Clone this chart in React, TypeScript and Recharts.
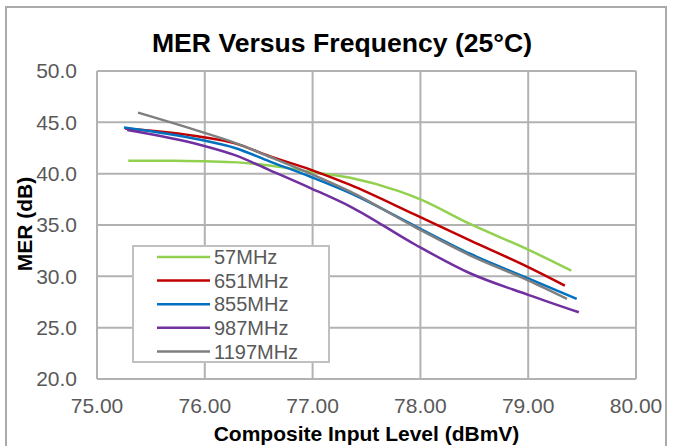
import { CartesianGrid, Label, Legend, Line, LineChart, XAxis, YAxis } from "recharts";

const FONT = "'Liberation Sans', Arial, sans-serif";

const seriesNames = ["57MHz", "651MHz", "855MHz", "987MHz", "1197MHz"];
const seriesColors = ["#92d050", "#c00000", "#0070c0", "#7030a0", "#7f7f7f"];

const x57 = [75.29, 75.7, 76.0, 76.3, 76.6, 77.0, 77.35, 77.8, 78.0, 78.46, 79.0, 79.4];
const y57 = [41.25, 41.25, 41.2, 41.1, 40.8, 40.15, 39.6, 38.3, 37.5, 35.1, 32.6, 30.55];

const x651 = [75.26, 75.96, 76.28, 76.6, 76.98, 77.35, 77.95, 78.46, 79.0, 79.34];
const y651 = [44.4, 43.6, 42.95, 41.7, 40.4, 38.9, 36.0, 33.5, 30.9, 29.1];

const x855 = [75.25, 75.96, 76.28, 76.6, 76.98, 77.35, 77.95, 78.46, 79.0, 79.45];
const y855 = [44.5, 43.3, 42.5, 41.2, 39.7, 38.1, 34.9, 32.2, 29.8, 27.8];

const x987 = [75.28, 75.96, 76.28, 76.6, 76.98, 77.35, 77.95, 78.46, 79.0, 79.47];
const y987 = [44.25, 42.8, 41.8, 40.35, 38.6, 36.8, 33.1, 30.3, 28.2, 26.5];

const x1197 = [75.38, 75.96, 76.28, 76.6, 76.98, 77.35, 77.95, 78.46, 79.0, 79.36];
const y1197 = [45.95, 44.1, 43.0, 41.65, 40.0, 38.25, 34.8, 32.05, 29.6, 27.8];

const xTicks = [75, 76, 77, 78, 79, 80];
const yTicks = [20, 25, 30, 35, 40, 45, 50];

const toPoints = (xs: number[], ys: number[]) => xs.map((x, i) => ({ x, y: ys[i] }));

const series = [
  toPoints(x57, y57),
  toPoints(x651, y651),
  toPoints(x855, y855),
  toPoints(x987, y987),
  toPoints(x1197, y1197),
];

function LegendBox({ payload }: any) {
  // keep the series order, not the alphabetical one
  const items = [...(payload || [])].sort(
    (a: any, b: any) => seriesNames.indexOf(a.value) - seriesNames.indexOf(b.value)
  );
  return (
    <svg width={198} height={118} style={{ display: "block" }}>
      <rect x={1} y={1} width={196} height={116} fill="#fff" stroke="#c0c0c0" strokeWidth={2} />
      {items.map((item: any, i: number) => {
        const cy = 12 + i * 23.6;
        return (
          <g key={item.value}>
            <line x1={25} x2={78} y1={cy} y2={cy} stroke={item.color} strokeWidth={2.5} />
            <text x={82} y={cy} dy="0.36em" fontSize={20} fill="#595959" fontFamily={FONT}>
              {item.value}
            </text>
          </g>
        );
      })}
    </svg>
  );
}

export default function App() {
  const tickStyle = { fontSize: 21, fill: "#595959", fontFamily: FONT };
  return (
    <div style={{ position: "absolute", left: 0, top: 0, width: 673, height: 446, background: "#fff", overflow: "hidden" }}>
      <div
        style={{
          position: "absolute",
          left: 5,
          top: 6,
          width: 662,
          height: 460,
          border: "2px solid #aaaaaa",
          boxSizing: "border-box",
        }}
      />
      <svg width={673} height={60} style={{ position: "absolute", left: 0, top: 0 }}>
        <text x={342} y={52} textAnchor="middle" fontSize={26.6} fontWeight="bold" fill="#000" fontFamily={FONT}>
          MER Versus Frequency (25°C)
        </text>
      </svg>
      <div style={{ position: "absolute", left: 0, top: 0 }}>
        <LineChart width={673} height={446} margin={{ top: 71, right: 37, bottom: 0, left: 0 }}>
          <CartesianGrid stroke="#b2b2b2" strokeWidth={2} />
          <XAxis
            dataKey="x"
            type="number"
            domain={[75, 80]}
            ticks={xTicks}
            tickFormatter={(v) => Number(v).toFixed(2)}
            tickLine={false}
            axisLine={false}
            tickSize={0}
            tickMargin={19}
            height={67}
            tick={tickStyle}
            allowDataOverflow
          >
            <Label
              value="Composite Input Level (dBmV)"
              position="insideBottom"
              offset={5}
              style={{ fontSize: 21, fontWeight: "bold", fill: "#000", fontFamily: FONT }}
            />
          </XAxis>
          <YAxis
            type="number"
            domain={[20, 50]}
            ticks={yTicks}
            tickFormatter={(v) => Number(v).toFixed(1)}
            tickLine={false}
            axisLine={false}
            tickSize={0}
            tickMargin={20}
            width={97}
            tick={tickStyle}
            allowDataOverflow
          >
            <Label
              content={() => (
                <text
                  x={32}
                  y={224}
                  transform="rotate(-90 32 224)"
                  textAnchor="middle"
                  fontSize={21}
                  fontWeight="bold"
                  fill="#000"
                  fontFamily={FONT}
                >
                  MER (dB)
                </text>
              )}
            />
          </YAxis>
          <Legend
            layout="vertical"
            align="center"
            verticalAlign="middle"
            wrapperStyle={{ position: "absolute", left: 132, top: 245, width: 198, height: 118 }}
            content={<LegendBox />}
          />
          {series.map((pts, i) => (
            <Line
              key={seriesNames[i]}
              data={pts}
              dataKey="y"
              name={seriesNames[i]}
              type="monotone"
              stroke={seriesColors[i]}
              strokeWidth={2.5}
              dot={false}
              activeDot={false}
              isAnimationActive={false}
            />
          ))}
        </LineChart>
      </div>
    </div>
  );
}
